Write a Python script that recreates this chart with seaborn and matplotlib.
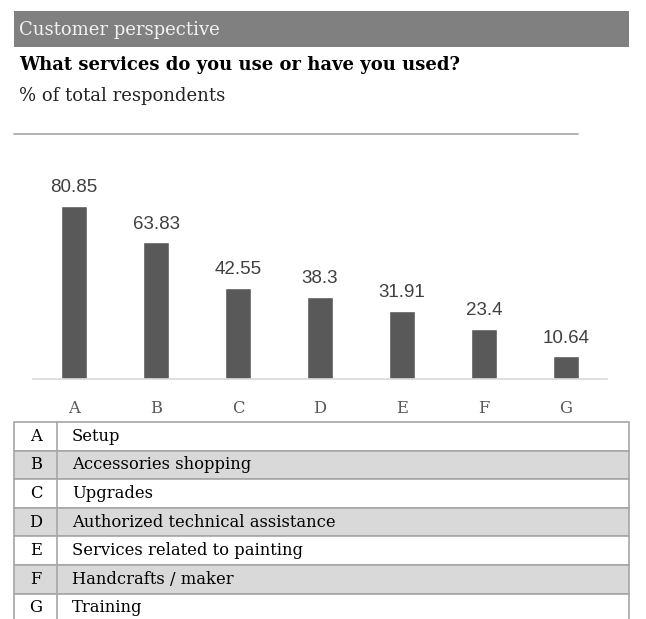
import matplotlib
matplotlib.use("Agg")
import matplotlib.pyplot as plt
from matplotlib.patches import Rectangle
import seaborn as sns
import pandas as pd

codes = ["A", "B", "C", "D", "E", "F", "G"]
values = [80.85, 63.83, 42.55, 38.3, 31.91, 23.4, 10.64]
services = [
    "Setup",
    "Accessories shopping",
    "Upgrades",
    "Authorized technical assistance",
    "Services related to painting",
    "Handcrafts / maker",
    "Training",
]
header = "Customer perspective"
question = "What services do you use or have you used?"
subtitle = "% of total respondents"

sns.set_theme(style="white")
plt.rcParams["font.family"] = ["DejaVu Serif"]

W, H = 646, 619
fig = plt.figure(figsize=(W / 100, H / 100), dpi=100)

# overlay axes in pixel coordinates for the header, rules and table
ov = fig.add_axes([0, 0, 1, 1])
ov.set_xlim(0, W)
ov.set_ylim(H, 0)
ov.axis("off")

serif = "DejaVu Serif"
sans = "Liberation Sans"

ov.add_patch(Rectangle((14, 11), 615, 36, facecolor="#808080", edgecolor="none"))
ov.text(19, 30, header, fontsize=13, color="#f2f2f2", va="center", ha="left", family=serif)
ov.text(19, 65, question, fontsize=13, color="black", va="center", ha="left",
        family=serif, fontweight="bold")
ov.text(19, 96, subtitle, fontsize=13, color="#222222", va="center", ha="left", family=serif)
ov.plot([14, 578], [134, 134], color="#a6a6a6", lw=1.2)

# legend table
top, row_h = 422, 28.6
for i, (c, s) in enumerate(zip(codes, services)):
    y0 = top + i * row_h
    fc = "#d9d9d9" if i % 2 == 1 else "white"
    ov.add_patch(Rectangle((14, y0), 615, row_h, facecolor=fc, edgecolor="#a6a6a6", lw=1.2))
    ov.plot([57, 57], [y0, y0 + row_h], color="#a6a6a6", lw=1.2)
    ov.text(36, y0 + row_h / 2, c, fontsize=11.8, ha="center", va="center", family=serif, color="black")
    ov.text(72, y0 + row_h / 2, s, fontsize=11.8, ha="left", va="center", family=serif, color="black")

# bar chart
ax_l, ax_r, ax_t, ax_b = 33, 607, 150, 379
ax = fig.add_axes([ax_l / W, 1 - ax_b / H, (ax_r - ax_l) / W, (ax_b - ax_t) / H])
df = pd.DataFrame({"code": codes, "value": values})
sns.barplot(data=df, x="code", y="value", color="#595959", saturation=1, width=0.31, ax=ax)
ax.set_xlim(-0.5, 6.5)
ax.set_ylim(0, (ax_b - ax_t) / 2.14)
ax.set_xlabel("")
ax.set_ylabel("")
ax.set_yticks([])
for sp in ["top", "left", "right"]:
    ax.spines[sp].set_visible(False)
ax.spines["bottom"].set_color("#d9d9d9")
ax.spines["bottom"].set_linewidth(1.2)
ax.tick_params(axis="x", length=0, pad=15, labelsize=11.8, labelcolor="#595959")
for lab in ax.get_xticklabels():
    lab.set_family(serif)
ax.patch.set_alpha(0)
for i, v in enumerate(values):
    ax.annotate(f"{v:g}", (i, v), xytext=(0, 13), textcoords="offset points",
                ha="center", va="center", fontsize=13.5, color="#404040", family=sans)

fig.savefig("out.png", dpi=100)
